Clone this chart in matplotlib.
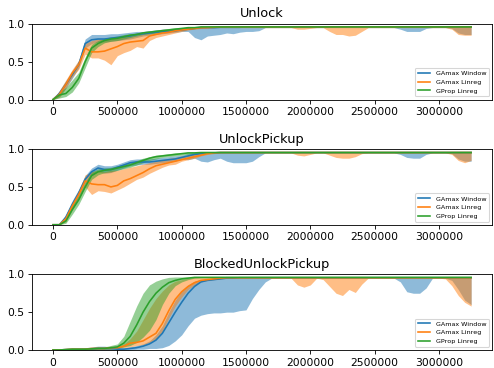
import numpy as np
import matplotlib
matplotlib.use("Agg")
import matplotlib.pyplot as plt

# training timesteps, one sample every 50k steps
steps = np.arange(0, 3300000, 50000)

envs = ["Unlock", "UnlockPickup", "BlockedUnlockPickup"]
labels = ["GAmax Window", "GAmax Linreg", "GProp Linreg"]

# ---- Unlock ----
unlock_window_mean = [
    0.00, 0.08, 0.20, 0.33, 0.46, 0.74, 0.79, 0.80, 0.80, 0.81,
    0.82, 0.83, 0.84, 0.86, 0.87, 0.88, 0.89, 0.90, 0.90, 0.91,
    0.92, 0.93, 0.94, 0.95, 0.95, 0.95, 0.955, 0.955, 0.955, 0.955,
    0.96, 0.96, 0.96, 0.96, 0.96, 0.96, 0.96, 0.96, 0.96, 0.96,
    0.96, 0.96, 0.96, 0.96, 0.96, 0.96, 0.96, 0.96, 0.96, 0.96,
    0.96, 0.96, 0.96, 0.96, 0.96, 0.96, 0.96, 0.96, 0.96, 0.96,
    0.96, 0.96, 0.96, 0.96, 0.96, 0.96]
unlock_window_lo = [
    0.00, 0.04, 0.15, 0.28, 0.42, 0.68, 0.74, 0.76, 0.76, 0.77,
    0.78, 0.79, 0.80, 0.82, 0.84, 0.85, 0.86, 0.87, 0.88, 0.89,
    0.90, 0.90, 0.82, 0.79, 0.84, 0.85, 0.86, 0.88, 0.87, 0.89,
    0.90, 0.90, 0.91, 0.95, 0.95, 0.95, 0.95, 0.95, 0.95, 0.95,
    0.95, 0.95, 0.95, 0.95, 0.95, 0.95, 0.95, 0.95, 0.95, 0.95,
    0.95, 0.95, 0.95, 0.95, 0.93, 0.90, 0.90, 0.90, 0.94, 0.95,
    0.95, 0.95, 0.94, 0.88, 0.86, 0.86]
unlock_window_hi = [
    0.00, 0.12, 0.25, 0.38, 0.52, 0.80, 0.86, 0.86, 0.86, 0.87,
    0.87, 0.88, 0.89, 0.90, 0.90, 0.91, 0.92, 0.93, 0.93, 0.94,
    0.95, 0.95, 0.96, 0.96, 0.965, 0.965, 0.965, 0.965, 0.965, 0.965,
    0.965, 0.965, 0.965, 0.965, 0.965, 0.965, 0.965, 0.965, 0.965, 0.965,
    0.965, 0.965, 0.965, 0.965, 0.965, 0.965, 0.965, 0.965, 0.965, 0.965,
    0.965, 0.965, 0.965, 0.965, 0.965, 0.965, 0.965, 0.965, 0.965, 0.965,
    0.965, 0.965, 0.965, 0.965, 0.965, 0.965]
unlock_linreg_mean = [
    0.00, 0.07, 0.20, 0.35, 0.46, 0.68, 0.63, 0.63, 0.64, 0.67,
    0.70, 0.74, 0.76, 0.77, 0.78, 0.84, 0.86, 0.88, 0.89, 0.91,
    0.92, 0.93, 0.94, 0.95, 0.95, 0.955, 0.96, 0.96, 0.96, 0.96,
    0.96, 0.96, 0.96, 0.96, 0.96, 0.96, 0.96, 0.96, 0.96, 0.96,
    0.96, 0.96, 0.96, 0.96, 0.96, 0.96, 0.96, 0.96, 0.96, 0.96,
    0.96, 0.96, 0.96, 0.96, 0.96, 0.96, 0.96, 0.96, 0.96, 0.96,
    0.96, 0.96, 0.96, 0.96, 0.96, 0.96]
unlock_linreg_lo = [
    0.00, 0.03, 0.15, 0.30, 0.40, 0.60, 0.55, 0.55, 0.52, 0.46,
    0.58, 0.62, 0.65, 0.70, 0.68, 0.78, 0.82, 0.84, 0.86, 0.88,
    0.90, 0.92, 0.93, 0.94, 0.95, 0.95, 0.95, 0.95, 0.95, 0.95,
    0.95, 0.95, 0.95, 0.95, 0.95, 0.95, 0.95, 0.95, 0.93, 0.93,
    0.94, 0.95, 0.95, 0.90, 0.86, 0.86, 0.84, 0.85, 0.90, 0.95,
    0.95, 0.95, 0.95, 0.95, 0.95, 0.95, 0.95, 0.95, 0.95, 0.95,
    0.95, 0.95, 0.93, 0.86, 0.85, 0.85]
unlock_linreg_hi = [
    0.00, 0.12, 0.26, 0.40, 0.52, 0.74, 0.78, 0.80, 0.80, 0.80,
    0.82, 0.83, 0.84, 0.85, 0.87, 0.88, 0.90, 0.91, 0.92, 0.93,
    0.94, 0.95, 0.96, 0.96, 0.965, 0.965, 0.965, 0.965, 0.965, 0.965,
    0.965, 0.965, 0.965, 0.965, 0.965, 0.965, 0.965, 0.965, 0.965, 0.965,
    0.965, 0.965, 0.965, 0.965, 0.965, 0.965, 0.965, 0.965, 0.965, 0.965,
    0.965, 0.965, 0.965, 0.965, 0.965, 0.965, 0.965, 0.965, 0.965, 0.965,
    0.965, 0.965, 0.965, 0.965, 0.965, 0.965]
unlock_gprop_mean = [
    0.00, 0.06, 0.08, 0.16, 0.28, 0.50, 0.68, 0.74, 0.78, 0.80,
    0.81, 0.83, 0.85, 0.86, 0.88, 0.89, 0.90, 0.91, 0.92, 0.93,
    0.94, 0.95, 0.95, 0.96, 0.96, 0.96, 0.96, 0.96, 0.96, 0.96,
    0.96, 0.96, 0.96, 0.96, 0.96, 0.96, 0.96, 0.96, 0.96, 0.96,
    0.96, 0.96, 0.96, 0.96, 0.96, 0.96, 0.96, 0.96, 0.96, 0.96,
    0.96, 0.96, 0.96, 0.96, 0.96, 0.96, 0.96, 0.96, 0.96, 0.96,
    0.96, 0.96, 0.96, 0.96, 0.96, 0.96]
unlock_gprop_lo = [
    0.00, 0.02, 0.04, 0.10, 0.22, 0.42, 0.62, 0.70, 0.75, 0.77,
    0.78, 0.80, 0.82, 0.84, 0.86, 0.87, 0.88, 0.89, 0.90, 0.91,
    0.92, 0.93, 0.94, 0.95, 0.955, 0.955, 0.955, 0.955, 0.955, 0.955,
    0.955, 0.955, 0.955, 0.955, 0.955, 0.955, 0.955, 0.955, 0.955, 0.955,
    0.955, 0.955, 0.955, 0.955, 0.955, 0.955, 0.955, 0.955, 0.955, 0.955,
    0.955, 0.955, 0.955, 0.955, 0.955, 0.955, 0.955, 0.955, 0.955, 0.955,
    0.955, 0.955, 0.955, 0.955, 0.955, 0.955]
unlock_gprop_hi = [
    0.00, 0.10, 0.16, 0.26, 0.36, 0.56, 0.73, 0.78, 0.81, 0.83,
    0.84, 0.86, 0.87, 0.88, 0.90, 0.91, 0.92, 0.93, 0.94, 0.95,
    0.95, 0.96, 0.96, 0.965, 0.965, 0.965, 0.965, 0.965, 0.965, 0.965,
    0.965, 0.965, 0.965, 0.965, 0.965, 0.965, 0.965, 0.965, 0.965, 0.965,
    0.965, 0.965, 0.965, 0.965, 0.965, 0.965, 0.965, 0.965, 0.965, 0.965,
    0.965, 0.965, 0.965, 0.965, 0.965, 0.965, 0.965, 0.965, 0.965, 0.965,
    0.965, 0.965, 0.965, 0.965, 0.965, 0.965]

# ---- UnlockPickup ----
pickup_window_mean = [
    0.00, 0.00, 0.10, 0.27, 0.42, 0.60, 0.70, 0.75, 0.73, 0.73,
    0.76, 0.79, 0.82, 0.83, 0.83, 0.83, 0.84, 0.85, 0.86, 0.87,
    0.89, 0.91, 0.93, 0.94, 0.95, 0.95, 0.955, 0.955, 0.955, 0.955,
    0.955, 0.955, 0.955, 0.955, 0.955, 0.955, 0.955, 0.955, 0.955, 0.955,
    0.955, 0.955, 0.955, 0.955, 0.955, 0.955, 0.955, 0.955, 0.955, 0.955,
    0.955, 0.955, 0.955, 0.955, 0.955, 0.955, 0.955, 0.955, 0.955, 0.955,
    0.955, 0.955, 0.955, 0.955, 0.955, 0.955]
pickup_window_lo = [
    0.00, 0.00, 0.06, 0.22, 0.37, 0.55, 0.65, 0.70, 0.68, 0.69,
    0.72, 0.75, 0.78, 0.79, 0.80, 0.80, 0.81, 0.82, 0.83, 0.84,
    0.87, 0.86, 0.88, 0.84, 0.83, 0.86, 0.88, 0.84, 0.82, 0.82,
    0.82, 0.84, 0.90, 0.95, 0.95, 0.95, 0.95, 0.95, 0.95, 0.95,
    0.95, 0.95, 0.95, 0.95, 0.95, 0.95, 0.95, 0.95, 0.95, 0.95,
    0.95, 0.95, 0.95, 0.95, 0.93, 0.89, 0.88, 0.88, 0.93, 0.95,
    0.95, 0.95, 0.94, 0.87, 0.84, 0.84]
pickup_window_hi = [
    0.00, 0.00, 0.14, 0.32, 0.47, 0.65, 0.75, 0.80, 0.78, 0.78,
    0.80, 0.83, 0.86, 0.87, 0.87, 0.87, 0.88, 0.89, 0.90, 0.91,
    0.92, 0.94, 0.95, 0.96, 0.96, 0.965, 0.965, 0.965, 0.965, 0.965,
    0.965, 0.965, 0.965, 0.965, 0.965, 0.965, 0.965, 0.965, 0.965, 0.965,
    0.965, 0.965, 0.965, 0.965, 0.965, 0.965, 0.965, 0.965, 0.965, 0.965,
    0.965, 0.965, 0.965, 0.965, 0.965, 0.965, 0.965, 0.965, 0.965, 0.965,
    0.965, 0.965, 0.965, 0.965, 0.965, 0.965]
pickup_linreg_mean = [
    0.00, 0.00, 0.08, 0.25, 0.40, 0.58, 0.54, 0.53, 0.53, 0.50,
    0.52, 0.58, 0.61, 0.65, 0.69, 0.74, 0.78, 0.80, 0.82, 0.84,
    0.86, 0.88, 0.90, 0.92, 0.94, 0.95, 0.955, 0.955, 0.955, 0.955,
    0.955, 0.955, 0.955, 0.955, 0.955, 0.955, 0.955, 0.955, 0.955, 0.955,
    0.955, 0.955, 0.955, 0.955, 0.955, 0.955, 0.955, 0.955, 0.955, 0.955,
    0.955, 0.955, 0.955, 0.955, 0.955, 0.955, 0.955, 0.955, 0.955, 0.955,
    0.955, 0.955, 0.955, 0.955, 0.955, 0.955]
pickup_linreg_lo = [
    0.00, 0.00, 0.04, 0.20, 0.35, 0.50, 0.40, 0.45, 0.44, 0.42,
    0.46, 0.50, 0.55, 0.60, 0.63, 0.68, 0.72, 0.76, 0.79, 0.80,
    0.84, 0.86, 0.88, 0.91, 0.93, 0.94, 0.95, 0.95, 0.95, 0.95,
    0.95, 0.95, 0.95, 0.95, 0.95, 0.95, 0.95, 0.95, 0.92, 0.91,
    0.93, 0.95, 0.95, 0.92, 0.89, 0.88, 0.88, 0.90, 0.94, 0.95,
    0.95, 0.95, 0.95, 0.95, 0.95, 0.95, 0.95, 0.95, 0.95, 0.95,
    0.95, 0.95, 0.93, 0.85, 0.82, 0.85]
pickup_linreg_hi = [
    0.00, 0.00, 0.12, 0.30, 0.46, 0.66, 0.70, 0.72, 0.70, 0.72,
    0.72, 0.74, 0.76, 0.78, 0.80, 0.82, 0.84, 0.86, 0.88, 0.89,
    0.91, 0.92, 0.94, 0.95, 0.96, 0.96, 0.965, 0.965, 0.965, 0.965,
    0.965, 0.965, 0.965, 0.965, 0.965, 0.965, 0.965, 0.965, 0.965, 0.965,
    0.965, 0.965, 0.965, 0.965, 0.965, 0.965, 0.965, 0.965, 0.965, 0.965,
    0.965, 0.965, 0.965, 0.965, 0.965, 0.965, 0.965, 0.965, 0.965, 0.965,
    0.965, 0.965, 0.965, 0.965, 0.965, 0.965]
pickup_gprop_mean = [
    0.00, 0.00, 0.05, 0.20, 0.33, 0.50, 0.65, 0.70, 0.72, 0.73,
    0.75, 0.77, 0.79, 0.82, 0.85, 0.88, 0.90, 0.91, 0.92, 0.93,
    0.94, 0.95, 0.95, 0.955, 0.955, 0.955, 0.955, 0.955, 0.955, 0.955,
    0.955, 0.955, 0.955, 0.955, 0.955, 0.955, 0.955, 0.955, 0.955, 0.955,
    0.955, 0.955, 0.955, 0.955, 0.955, 0.955, 0.955, 0.955, 0.955, 0.955,
    0.955, 0.955, 0.955, 0.955, 0.955, 0.955, 0.955, 0.955, 0.955, 0.955,
    0.955, 0.955, 0.955, 0.955, 0.955, 0.955]
pickup_gprop_lo = [
    0.00, 0.00, 0.02, 0.14, 0.27, 0.44, 0.60, 0.66, 0.69, 0.70,
    0.72, 0.74, 0.76, 0.79, 0.82, 0.85, 0.87, 0.89, 0.90, 0.91,
    0.92, 0.93, 0.94, 0.95, 0.95, 0.95, 0.95, 0.95, 0.95, 0.95,
    0.95, 0.95, 0.95, 0.95, 0.95, 0.95, 0.95, 0.95, 0.95, 0.95,
    0.95, 0.95, 0.95, 0.95, 0.95, 0.95, 0.95, 0.95, 0.95, 0.95,
    0.95, 0.95, 0.95, 0.95, 0.95, 0.95, 0.95, 0.95, 0.95, 0.95,
    0.95, 0.95, 0.95, 0.95, 0.95, 0.95]
pickup_gprop_hi = [
    0.00, 0.00, 0.09, 0.26, 0.39, 0.56, 0.70, 0.74, 0.75, 0.76,
    0.78, 0.80, 0.82, 0.85, 0.88, 0.90, 0.92, 0.93, 0.94, 0.95,
    0.95, 0.96, 0.96, 0.965, 0.965, 0.965, 0.965, 0.965, 0.965, 0.965,
    0.965, 0.965, 0.965, 0.965, 0.965, 0.965, 0.965, 0.965, 0.965, 0.965,
    0.965, 0.965, 0.965, 0.965, 0.965, 0.965, 0.965, 0.965, 0.965, 0.965,
    0.965, 0.965, 0.965, 0.965, 0.965, 0.965, 0.965, 0.965, 0.965, 0.965,
    0.965, 0.965, 0.965, 0.965, 0.965, 0.965]

# ---- BlockedUnlockPickup ----
blocked_window_mean = [
    0.00, 0.00, 0.005, 0.01, 0.01, 0.01, 0.015, 0.02, 0.02, 0.02,
    0.01, 0.01, 0.02, 0.03, 0.05, 0.08, 0.13, 0.22, 0.36, 0.50,
    0.63, 0.75, 0.84, 0.90, 0.92, 0.93, 0.94, 0.95, 0.95, 0.955,
    0.955, 0.955, 0.955, 0.955, 0.955, 0.955, 0.955, 0.955, 0.955, 0.955,
    0.955, 0.955, 0.955, 0.955, 0.955, 0.955, 0.955, 0.955, 0.955, 0.955,
    0.955, 0.955, 0.955, 0.955, 0.955, 0.955, 0.955, 0.955, 0.955, 0.955,
    0.955, 0.955, 0.955, 0.955, 0.955, 0.955]
blocked_window_lo = [
    0.00, 0.00, 0.00, 0.00, 0.00, 0.00, 0.00, 0.00, 0.00, 0.00,
    0.00, 0.00, 0.00, 0.01, 0.01, 0.02, 0.02, 0.03, 0.06, 0.12,
    0.20, 0.32, 0.42, 0.46, 0.48, 0.49, 0.49, 0.50, 0.50, 0.52,
    0.53, 0.68, 0.80, 0.90, 0.95, 0.95, 0.95, 0.95, 0.95, 0.95,
    0.95, 0.95, 0.95, 0.95, 0.95, 0.95, 0.95, 0.95, 0.95, 0.95,
    0.95, 0.95, 0.95, 0.95, 0.90, 0.77, 0.75, 0.75, 0.82, 0.95,
    0.95, 0.95, 0.92, 0.80, 0.66, 0.60]
blocked_window_hi = [
    0.00, 0.01, 0.01, 0.02, 0.02, 0.03, 0.04, 0.05, 0.05, 0.04,
    0.03, 0.03, 0.04, 0.06, 0.08, 0.12, 0.20, 0.32, 0.50, 0.66,
    0.78, 0.86, 0.91, 0.93, 0.94, 0.95, 0.96, 0.965, 0.965, 0.965,
    0.965, 0.965, 0.965, 0.965, 0.965, 0.965, 0.965, 0.965, 0.965, 0.965,
    0.965, 0.965, 0.965, 0.965, 0.965, 0.965, 0.965, 0.965, 0.965, 0.965,
    0.965, 0.965, 0.965, 0.965, 0.965, 0.965, 0.965, 0.965, 0.965, 0.965,
    0.965, 0.965, 0.965, 0.965, 0.965, 0.965]
blocked_linreg_mean = [
    0.00, 0.00, 0.005, 0.01, 0.01, 0.01, 0.02, 0.02, 0.02, 0.03,
    0.03, 0.05, 0.09, 0.10, 0.12, 0.17, 0.22, 0.35, 0.52, 0.67,
    0.77, 0.84, 0.89, 0.92, 0.93, 0.94, 0.95, 0.955, 0.955, 0.955,
    0.955, 0.955, 0.955, 0.955, 0.955, 0.955, 0.955, 0.955, 0.955, 0.955,
    0.955, 0.955, 0.955, 0.955, 0.955, 0.955, 0.955, 0.955, 0.955, 0.955,
    0.955, 0.955, 0.955, 0.955, 0.955, 0.955, 0.955, 0.955, 0.955, 0.955,
    0.955, 0.955, 0.955, 0.955, 0.955, 0.955]
blocked_linreg_lo = [
    0.00, 0.00, 0.00, 0.00, 0.00, 0.00, 0.01, 0.01, 0.01, 0.01,
    0.02, 0.03, 0.04, 0.06, 0.07, 0.10, 0.15, 0.25, 0.42, 0.58,
    0.70, 0.80, 0.86, 0.90, 0.92, 0.93, 0.94, 0.95, 0.95, 0.95,
    0.95, 0.95, 0.95, 0.95, 0.95, 0.95, 0.95, 0.95, 0.86, 0.83,
    0.86, 0.95, 0.93, 0.84, 0.75, 0.72, 0.80, 0.76, 0.87, 0.95,
    0.95, 0.95, 0.95, 0.95, 0.95, 0.95, 0.95, 0.95, 0.95, 0.95,
    0.95, 0.94, 0.85, 0.72, 0.63, 0.58]
blocked_linreg_hi = [
    0.00, 0.01, 0.01, 0.02, 0.02, 0.02, 0.03, 0.03, 0.03, 0.04,
    0.05, 0.08, 0.15, 0.25, 0.40, 0.55, 0.68, 0.78, 0.86, 0.91,
    0.93, 0.95, 0.96, 0.965, 0.965, 0.965, 0.965, 0.965, 0.965, 0.965,
    0.965, 0.965, 0.965, 0.965, 0.965, 0.965, 0.965, 0.965, 0.965, 0.965,
    0.965, 0.965, 0.965, 0.965, 0.965, 0.965, 0.965, 0.965, 0.965, 0.965,
    0.965, 0.965, 0.965, 0.965, 0.965, 0.965, 0.965, 0.965, 0.965, 0.965,
    0.965, 0.965, 0.965, 0.965, 0.965, 0.965]
blocked_gprop_mean = [
    0.00, 0.00, 0.005, 0.01, 0.01, 0.01, 0.015, 0.02, 0.02, 0.03,
    0.04, 0.09, 0.18, 0.33, 0.50, 0.64, 0.75, 0.83, 0.89, 0.92,
    0.94, 0.95, 0.96, 0.96, 0.96, 0.96, 0.96, 0.96, 0.96, 0.96,
    0.96, 0.96, 0.96, 0.96, 0.96, 0.96, 0.96, 0.96, 0.96, 0.96,
    0.96, 0.96, 0.96, 0.96, 0.96, 0.96, 0.96, 0.96, 0.96, 0.96,
    0.96, 0.96, 0.96, 0.96, 0.96, 0.96, 0.96, 0.96, 0.96, 0.96,
    0.96, 0.96, 0.96, 0.96, 0.96, 0.96]
blocked_gprop_lo = [
    0.00, 0.00, 0.00, 0.00, 0.00, 0.00, 0.00, 0.01, 0.01, 0.01,
    0.02, 0.04, 0.06, 0.10, 0.17, 0.26, 0.40, 0.60, 0.75, 0.85,
    0.90, 0.93, 0.95, 0.955, 0.955, 0.955, 0.955, 0.955, 0.955, 0.955,
    0.955, 0.955, 0.955, 0.955, 0.955, 0.955, 0.955, 0.955, 0.955, 0.955,
    0.955, 0.955, 0.955, 0.955, 0.955, 0.955, 0.955, 0.955, 0.955, 0.955,
    0.955, 0.955, 0.955, 0.955, 0.955, 0.955, 0.955, 0.955, 0.955, 0.955,
    0.955, 0.955, 0.955, 0.955, 0.955, 0.955]
blocked_gprop_hi = [
    0.00, 0.01, 0.01, 0.02, 0.02, 0.02, 0.03, 0.04, 0.04, 0.06,
    0.08, 0.18, 0.38, 0.58, 0.75, 0.86, 0.91, 0.94, 0.96, 0.965,
    0.965, 0.965, 0.965, 0.965, 0.965, 0.965, 0.965, 0.965, 0.965, 0.965,
    0.965, 0.965, 0.965, 0.965, 0.965, 0.965, 0.965, 0.965, 0.965, 0.965,
    0.965, 0.965, 0.965, 0.965, 0.965, 0.965, 0.965, 0.965, 0.965, 0.965,
    0.965, 0.965, 0.965, 0.965, 0.965, 0.965, 0.965, 0.965, 0.965, 0.965,
    0.965, 0.965, 0.965, 0.965, 0.965, 0.965]

runs = {
    "Unlock": [
        (unlock_window_mean, unlock_window_lo, unlock_window_hi),
        (unlock_linreg_mean, unlock_linreg_lo, unlock_linreg_hi),
        (unlock_gprop_mean, unlock_gprop_lo, unlock_gprop_hi),
    ],
    "UnlockPickup": [
        (pickup_window_mean, pickup_window_lo, pickup_window_hi),
        (pickup_linreg_mean, pickup_linreg_lo, pickup_linreg_hi),
        (pickup_gprop_mean, pickup_gprop_lo, pickup_gprop_hi),
    ],
    "BlockedUnlockPickup": [
        (blocked_window_mean, blocked_window_lo, blocked_window_hi),
        (blocked_linreg_mean, blocked_linreg_lo, blocked_linreg_hi),
        (blocked_gprop_mean, blocked_gprop_lo, blocked_gprop_hi),
    ],
}

colors = ["C0", "C1", "C2"]

fig, axes = plt.subplots(3, 1, figsize=(6.4, 4.768))
fig.subplots_adjust(left=0.065, right=0.996, top=0.935, bottom=0.049, hspace=0.656)

for ax, env in zip(axes, envs):
    for (mean, lo, hi), label, c in zip(runs[env], labels, colors):
        ax.fill_between(steps, lo, hi, color=c, alpha=0.5, linewidth=0)
        ax.plot(steps, mean, color=c, label=label)
    ax.set_title(env)
    ax.set_ylim(0, 1)
    ax.set_yticks([0.0, 0.5, 1.0])
    ax.ticklabel_format(axis="x", style="plain")
    ax.legend(loc="lower right", fontsize=6)

fig.savefig("out.png", dpi=77.1875)
